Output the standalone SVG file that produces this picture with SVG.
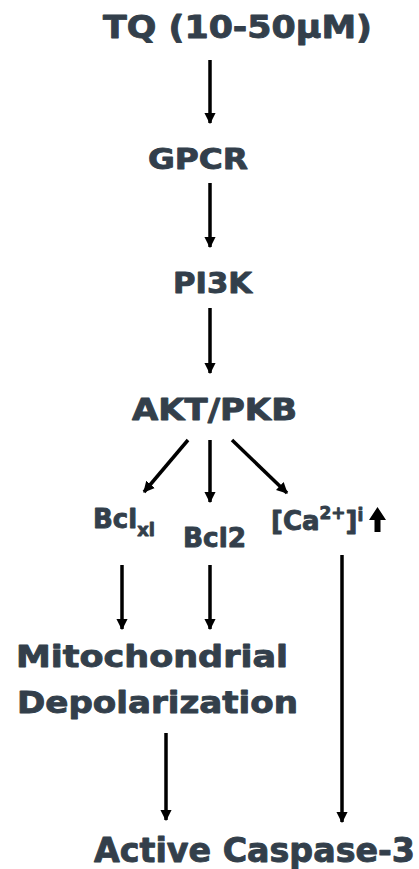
<svg xmlns="http://www.w3.org/2000/svg" width="419" height="869" viewBox="0 0 419 869">
  <style>
    .lbl { font-family: "DejaVu Sans", Verdana, sans-serif; font-weight: bold; fill: #333f4b; stroke: #333f4b; stroke-width: 0.9; stroke-linejoin: round; }
    .edge { stroke: #000; stroke-width: 3.5; fill: none; marker-end: url(#head); }
  </style>
  <defs>
    <!-- filled triangular head, ~12px wide and ~11px long at this stroke width -->
    <marker id="head" viewBox="0 0 10 10" refX="9" refY="5" markerWidth="3.2" markerHeight="3.5" orient="auto" markerUnits="strokeWidth">
      <path d="M0,0 L10,5 L0,10 Z" fill="#000"/>
    </marker>
  </defs>
  <rect width="419" height="869" fill="#fff"/>

  <g id="connectors">
    <line class="edge" x1="210" y1="60" x2="210" y2="123"/>
    <line class="edge" x1="210" y1="183" x2="210" y2="247"/>
    <line class="edge" x1="210" y1="308" x2="210" y2="373"/>
    <line class="edge" x1="188" y1="440" x2="144" y2="492"/>
    <line class="edge" x1="210" y1="440" x2="210" y2="502"/>
    <line class="edge" x1="232" y1="440" x2="287" y2="493"/>
    <line class="edge" x1="122" y1="565" x2="122" y2="629"/>
    <line class="edge" x1="210" y1="565" x2="210" y2="629"/>
    <line class="edge" x1="342" y1="555" x2="342" y2="822"/>
    <line class="edge" x1="166" y1="733" x2="166" y2="820"/>
  </g>

  <g id="tq"><text class="lbl" font-size="31.5" x="103" y="38" textLength="269" lengthAdjust="spacingAndGlyphs">TQ (10-50µM)</text></g>
  <g id="gpcr"><text class="lbl" font-size="29" x="148" y="169" textLength="100" lengthAdjust="spacingAndGlyphs">GPCR</text></g>
  <g id="pi3k"><text class="lbl" font-size="29" x="173" y="293" textLength="79" lengthAdjust="spacingAndGlyphs">PI3K</text></g>
  <g id="akt"><text class="lbl" font-size="30" x="132" y="420" textLength="165" lengthAdjust="spacingAndGlyphs">AKT/PKB</text></g>
  <g id="bclxl"><text class="lbl" font-size="26" x="93" y="528">Bcl<tspan font-size="18" dy="8">xl</tspan></text></g>
  <g id="bcl2"><text class="lbl" font-size="26" x="183" y="547" textLength="63" lengthAdjust="spacingAndGlyphs">Bcl2</text></g>
  <g id="ca">
    <text class="lbl" font-size="26" x="271" y="530">[Ca<tspan font-size="17" dy="-11">2+</tspan><tspan dy="11">]</tspan><tspan font-size="17" dy="-9">i</tspan></text>
    <path d="M377.5,507 L386,520 L380.5,520 L380.5,532 L374.5,532 L374.5,520 L369,520 Z" fill="#000"/>
  </g>
  <g id="mito">
    <text class="lbl" font-size="30" x="16" y="667" textLength="272" lengthAdjust="spacingAndGlyphs">Mitochondrial</text>
    <text class="lbl" font-size="30" x="17" y="713" textLength="281" lengthAdjust="spacingAndGlyphs">Depolarization</text>
  </g>
  <g id="casp"><text class="lbl" font-size="33" x="94" y="862" textLength="321" lengthAdjust="spacingAndGlyphs">Active Caspase-3</text></g>
</svg>
